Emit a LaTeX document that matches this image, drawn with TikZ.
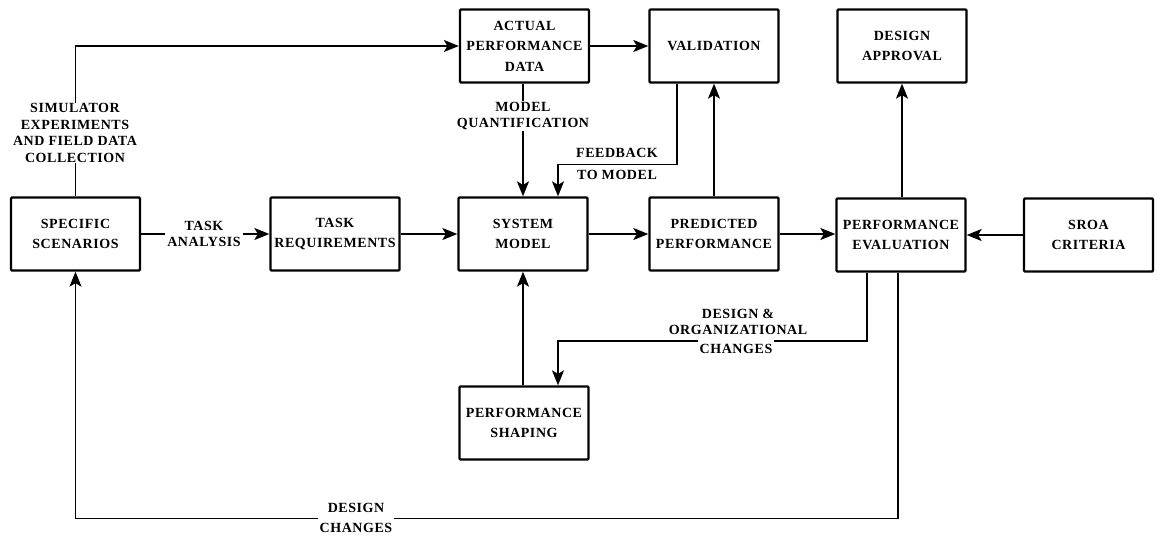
\documentclass[tikz,border=0pt]{standalone}
\usepackage{fontspec}
\setmainfont{Liberation Serif}
\newfontfamily\diafont[LetterSpace=4]{Liberation Serif}
\usetikzlibrary{arrows.meta}

\begin{document}
\begin{tikzpicture}[x=1pt,y=-1pt,
  box/.style={draw, line width=2.3pt, rounded corners=1pt,
    minimum width=129pt, minimum height=73pt, inner sep=0pt, align=center,
    font={\diafont\bfseries\fontsize{14}{20.5}\selectfont}},
  conn/.style={line width=1.5pt, -{Stealth[length=15pt,width=12pt,inset=3.5pt]}},
  lbl/.style={align=center, fill=white, inner xsep=2pt, inner ysep=1pt,
    font={\diafont\bfseries\fontsize{14}{16.5}\selectfont}}]

\useasboundingbox (0,0) rectangle (1157,541);

% process boxes
\node[box] (spec)      at (75.5,234)  {SPECIFIC\\SCENARIOS};
\node[box] (taskreq)   at (335,234)   {TASK\\REQUIREMENTS};
\node[box] (actual)    at (524.5,46)  {ACTUAL\\PERFORMANCE\\DATA};
\node[box] (valid)     at (714,46)    {VALIDATION};
\node[box] (approval)  at (902,46)    {DESIGN\\APPROVAL};
\node[box] (sysmodel)  at (523,234)   {SYSTEM\\MODEL};
\node[box] (predicted) at (714,234)   {PREDICTED\\PERFORMANCE};
\node[box] (perfeval)  at (901,235)   {PERFORMANCE\\EVALUATION};
\node[box] (sroa)      at (1088.5,235){SROA\\CRITERIA};
\node[box] (shaping)   at (524,423)   {PERFORMANCE\\SHAPING};

% connectors
\draw[conn] (spec.north) |- (actual.west);
\draw[conn] (actual) -- (valid);
\draw[conn] (sysmodel.north |- actual.south) -- (sysmodel.north);
\draw[conn] ([xshift=-37pt]valid.south) -- ++(0,81) -| ([xshift=35pt]sysmodel.north);
\draw[conn] (predicted) -- (valid);
\draw[conn] (spec) -- (taskreq);
\draw[conn] (taskreq) -- (sysmodel);
\draw[conn] (sysmodel) -- (predicted);
\draw[conn] (predicted.east) -- (perfeval.west |- predicted.east);
\draw[conn] (sroa) -- (perfeval);
\draw[conn] (perfeval.north -| approval.south) -- (approval.south);
\draw[conn] (shaping.north -| sysmodel.south) -- (sysmodel.south);
\draw[conn] ([xshift=-34pt]perfeval.south) -- ++(0,68.5) -| ([xshift=34pt]shaping.north);
\draw[conn] ([xshift=-3pt]perfeval.south) -- ++(0,246) -| (spec.south);

% connector labels
\node[lbl] (simlbl)  at (75,133)  {SIMULATOR\\EXPERIMENTS\\AND FIELD DATA\\COLLECTION};
\node[lbl] (tasklbl) at (204,234) {TASK\\ANALYSIS};
\node[lbl] (quantlbl) at (523,116) {MODEL\\QUANTIFICATION};
\node[lbl, fill=none] (fbklbl) at (617,164) {FEEDBACK\\[5pt]TO MODEL};
\node[lbl, fill=none, anchor=south] (orglbl) at (738,336) {DESIGN \&\\ORGANIZATIONAL};
\node[lbl, inner ysep=4pt] (chglbl) at (736,349) {CHANGES};
\node[lbl, font={\diafont\bfseries\fontsize{14}{20}\selectfont}] (dchlbl) at (356,518) {DESIGN\\CHANGES};

\end{tikzpicture}
\end{document}
